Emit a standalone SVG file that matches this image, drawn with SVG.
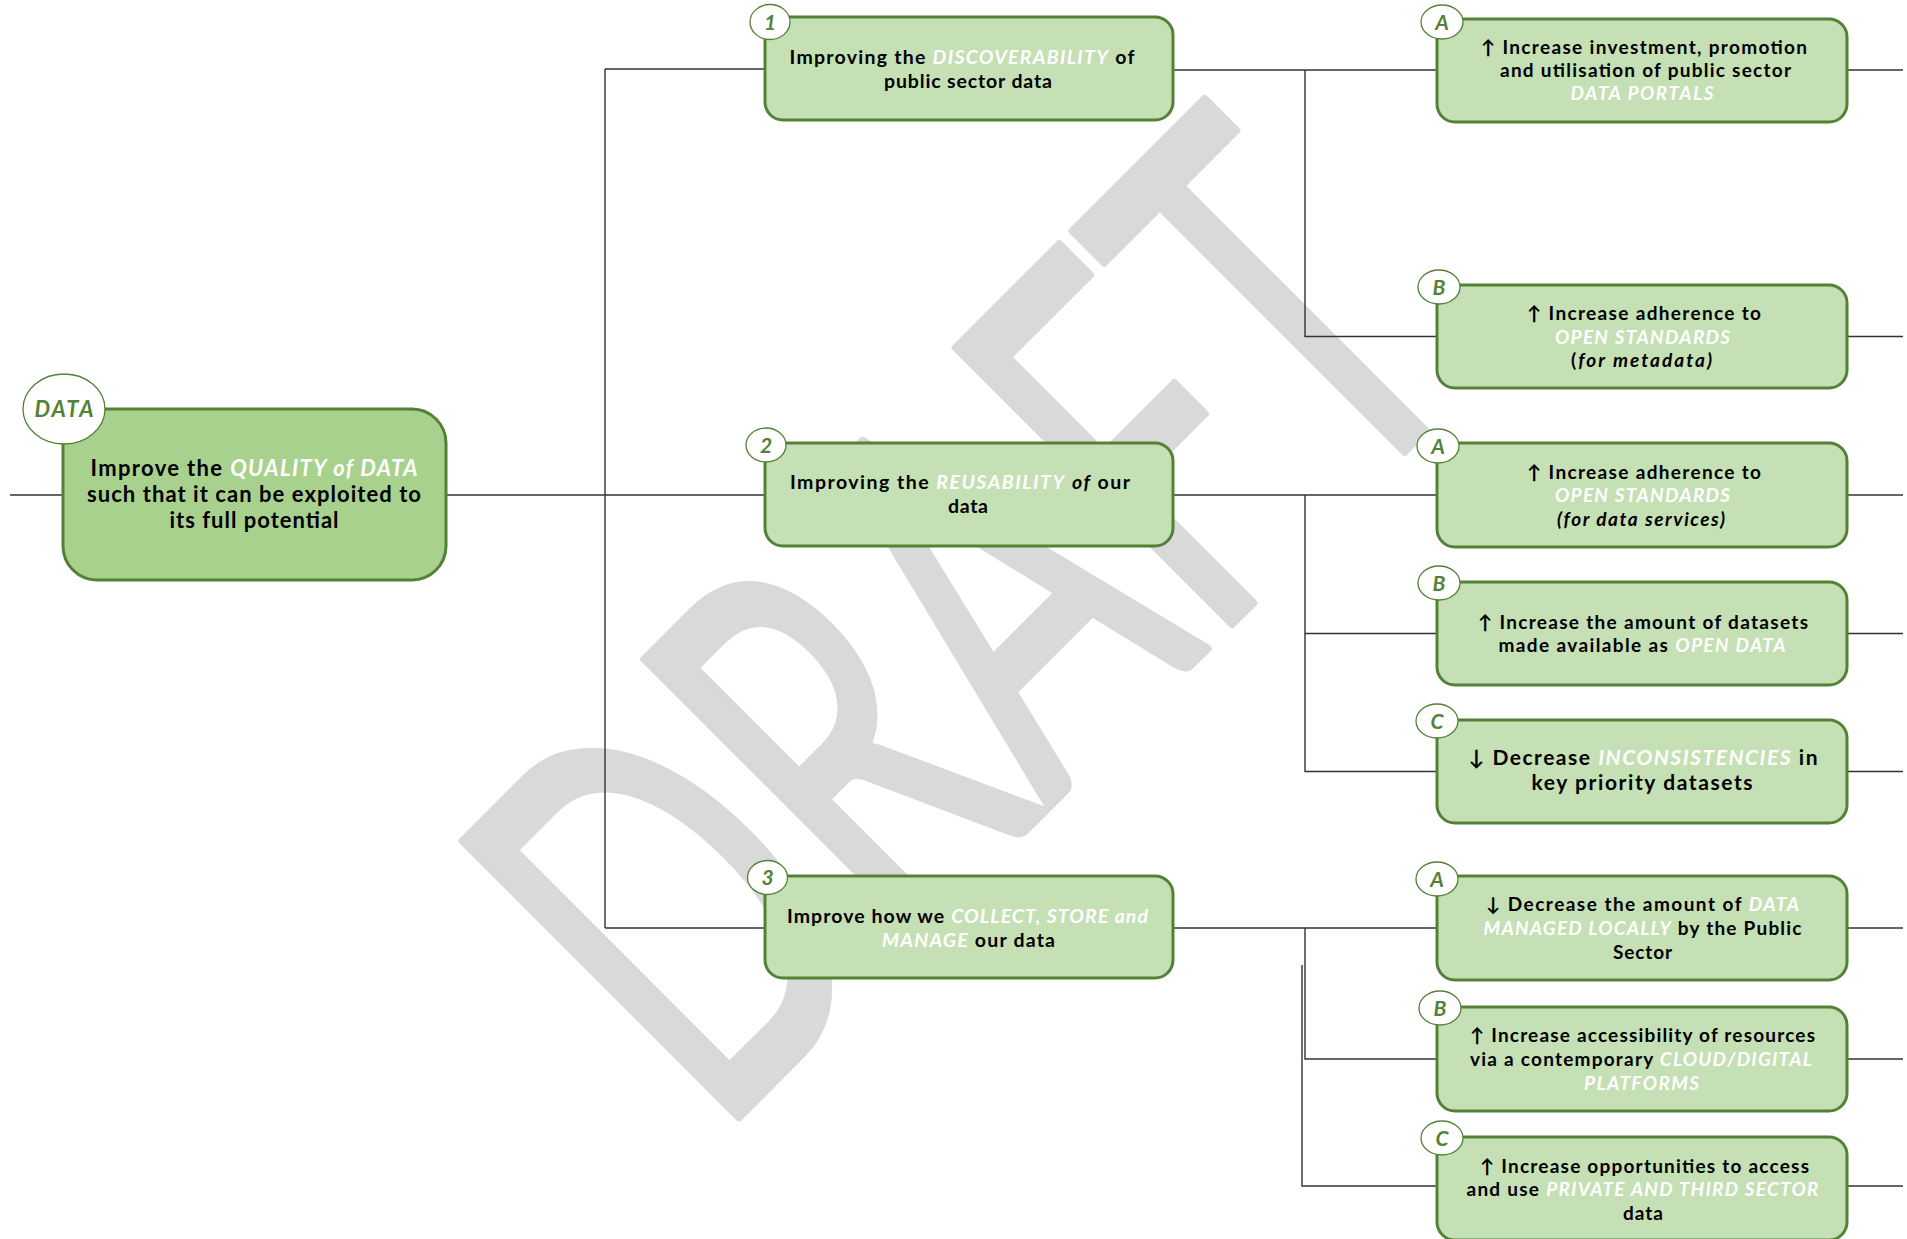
<svg xmlns="http://www.w3.org/2000/svg" width="1907" height="1239" viewBox="0 0 1907 1239">
<style>
.bg{fill:#ffffff}
.wm{font-family:Lato,"Liberation Sans",sans-serif;font-weight:400;fill:#d9d9d9;stroke:#d9d9d9;stroke-width:8;stroke-linejoin:round}
.ln{stroke:#333333;stroke-width:1.4;fill:none}
.root{fill:#a9d18e;stroke:#538135;stroke-width:3}
.box{fill:#c5e0b4;stroke:#538135;stroke-width:3}
.badge{fill:#ffffff;stroke:#538135;stroke-width:1.3}
.bt{font-family:Lato,"Liberation Sans",sans-serif;font-weight:700;font-style:italic;fill:#538135;text-anchor:middle}
.t{font-family:Lato,"Liberation Sans","DejaVu Sans",sans-serif;font-weight:700;fill:#000000;text-anchor:middle}
.w{font-style:italic;fill:#ffffff}
.i{font-style:italic}
</style>
<rect class="bg" x="0" y="0" width="1907" height="1239"/>
<g id="watermark">
<text class="wm" font-size="545" transform="translate(716,1140) rotate(-45) scale(0.62,1)">DRAFT</text>
</g>
<g id="connectors">
<path class="ln" d="M10,495H63"/>
<path class="ln" d="M446,495H605"/>
<path class="ln" d="M605,69V928"/>
<path class="ln" d="M605,69H765M605,495H765M605,928H765"/>
<path class="ln" d="M1173,70H1305V336.5H1437M1305,70H1437"/>
<path class="ln" d="M1173,495H1305V771.5H1437M1305,495H1437M1305,633.5H1437"/>
<path class="ln" d="M1173,928H1305V1059H1437M1305,928H1437M1302,965V1186H1437"/>
<path class="ln" d="M1847,70H1903M1847,336.5H1903M1847,495H1903M1847,633.5H1903M1847,771.5H1903M1847,928H1903M1847,1059H1903M1847,1186H1903"/>
</g>
<g id="root">
<rect class="root" x="63" y="409" width="383" height="171" rx="34"/>
<ellipse class="badge" cx="64" cy="409" rx="41" ry="35"/>
<text class="bt" x="64" y="417" font-size="22" textLength="59">DATA</text>
<text class="t" x="254" y="476" font-size="22" textLength="327">Improve the <tspan class="w">QUALITY of DATA</tspan></text>
<text class="t" x="254" y="502" font-size="22" textLength="334">such that it can be exploited to</text>
<text class="t" x="254" y="527.5" font-size="22" textLength="169">its full potential</text>
</g>
<g id="n1">
<rect class="box" x="765" y="17" width="408" height="103" rx="18"/>
<ellipse class="badge" cx="770" cy="22" rx="20" ry="17.5"/>
<text class="bt" x="770" y="29.5" font-size="21">1</text>
<text class="t" x="962" y="63.5" font-size="19.5" textLength="345">Improving the <tspan class="w">DISCOVERABILITY</tspan> of</text>
<text class="t" x="968" y="87.5" font-size="19.5" textLength="168">public sector data</text>
</g>
<g id="n2">
<rect class="box" x="765" y="443" width="408" height="103" rx="18"/>
<ellipse class="badge" cx="766" cy="445" rx="20" ry="17"/>
<text class="bt" x="766" y="452.5" font-size="21">2</text>
<text class="t" x="960" y="489" font-size="19.5" textLength="340">Improving the <tspan class="w">REUSABILITY</tspan> <tspan class="i">of</tspan> our</text>
<text class="t" x="968" y="513" font-size="19.5" textLength="40">data</text>
</g>
<g id="n3">
<rect class="box" x="765" y="876" width="408" height="102" rx="18"/>
<ellipse class="badge" cx="767.5" cy="877.5" rx="20" ry="17"/>
<text class="bt" x="767.5" y="885" font-size="21">3</text>
<text class="t" x="967.5" y="923" font-size="19.5" textLength="361">Improve how we <tspan class="w">COLLECT, STORE and</tspan></text>
<text class="t" x="968.5" y="946.5" font-size="19.5" textLength="173"><tspan class="w">MANAGE</tspan> our data</text>
</g>
<g id="n1a">
<rect class="box" x="1437" y="19" width="410" height="103" rx="18"/>
<ellipse class="badge" cx="1442" cy="22" rx="21" ry="17"/>
<text class="bt" x="1442" y="29.5" font-size="21">A</text>
<text class="t" x="1644" y="53.5" font-size="19" textLength="326">↑ Increase investment, promotion</text>
<text class="t" x="1645.5" y="76.5" font-size="19" textLength="291">and utilisation of public sector</text>
<text class="t" x="1642" y="99.5" font-size="19" textLength="143"><tspan class="w">DATA PORTALS</tspan></text>
</g>
<g id="n1b">
<rect class="box" x="1437" y="285" width="410" height="103" rx="18"/>
<ellipse class="badge" cx="1439" cy="287" rx="21" ry="17"/>
<text class="bt" x="1439" y="294.5" font-size="21">B</text>
<text class="t" x="1644" y="320" font-size="19" textLength="234">↑ Increase adherence to</text>
<text class="t" x="1642.5" y="343.5" font-size="19" textLength="175"><tspan class="w">OPEN STANDARDS</tspan></text>
<text class="t" x="1641.5" y="367" font-size="19" textLength="141">(<tspan class="i">for metadata)</tspan></text>
</g>
<g id="n2a">
<rect class="box" x="1437" y="443" width="410" height="104" rx="18"/>
<ellipse class="badge" cx="1438" cy="446" rx="21" ry="17"/>
<text class="bt" x="1438" y="453.5" font-size="21">A</text>
<text class="t" x="1644" y="478.5" font-size="19" textLength="234">↑ Increase adherence to</text>
<text class="t" x="1642.5" y="502" font-size="19" textLength="175"><tspan class="w">OPEN STANDARDS</tspan></text>
<text class="t" x="1641" y="525.5" font-size="19" textLength="168"><tspan class="i">(for data services)</tspan></text>
</g>
<g id="n2b">
<rect class="box" x="1437" y="582" width="410" height="103" rx="18"/>
<ellipse class="badge" cx="1439" cy="583" rx="21" ry="17"/>
<text class="bt" x="1439" y="590.5" font-size="21">B</text>
<text class="t" x="1643" y="628.5" font-size="19" textLength="330">↑ Increase the amount of datasets</text>
<text class="t" x="1642" y="652" font-size="19" textLength="287">made available as <tspan class="w">OPEN DATA</tspan></text>
</g>
<g id="n2c">
<rect class="box" x="1437" y="720" width="410" height="103" rx="18"/>
<ellipse class="badge" cx="1437" cy="721" rx="21" ry="17"/>
<text class="bt" x="1437" y="728.5" font-size="21">C</text>
<text class="t" x="1643" y="765" font-size="21" textLength="349">↓ Decrease <tspan class="w">INCONSISTENCIES</tspan> in</text>
<text class="t" x="1642" y="790" font-size="21" textLength="221">key priority datasets</text>
</g>
<g id="n3a">
<rect class="box" x="1437" y="876" width="410" height="104" rx="18"/>
<ellipse class="badge" cx="1437" cy="879" rx="21" ry="17"/>
<text class="bt" x="1437" y="886.5" font-size="21">A</text>
<text class="t" x="1642.5" y="911" font-size="19" textLength="313">↓ Decrease the amount of <tspan class="w">DATA</tspan></text>
<text class="t" x="1642.5" y="935" font-size="19" textLength="318"><tspan class="w">MANAGED LOCALLY</tspan> by the Public</text>
<text class="t" x="1642.5" y="959" font-size="19" textLength="59">Sector</text>
</g>
<g id="n3b">
<rect class="box" x="1437" y="1007" width="410" height="104" rx="18"/>
<ellipse class="badge" cx="1440" cy="1008" rx="21" ry="17"/>
<text class="bt" x="1440" y="1015.5" font-size="21">B</text>
<text class="t" x="1642.5" y="1041.5" font-size="19" textLength="345">↑ Increase accessibility of resources</text>
<text class="t" x="1641" y="1066" font-size="19" textLength="342">via a contemporary <tspan class="w">CLOUD/DIGITAL</tspan></text>
<text class="t" x="1641.5" y="1089.5" font-size="19" textLength="115"><tspan class="w">PLATFORMS</tspan></text>
</g>
<g id="n3c">
<rect class="box" x="1437" y="1137" width="410" height="103" rx="18"/>
<ellipse class="badge" cx="1442" cy="1138" rx="21" ry="17"/>
<text class="bt" x="1442" y="1145.5" font-size="21">C</text>
<text class="t" x="1644.5" y="1173" font-size="19" textLength="329">↑ Increase opportunities to access</text>
<text class="t" x="1642.5" y="1196" font-size="19" textLength="352">and use <tspan class="w">PRIVATE AND THIRD SECTOR</tspan></text>
<text class="t" x="1643" y="1219.5" font-size="19" textLength="40">data</text>
</g>
</svg>
